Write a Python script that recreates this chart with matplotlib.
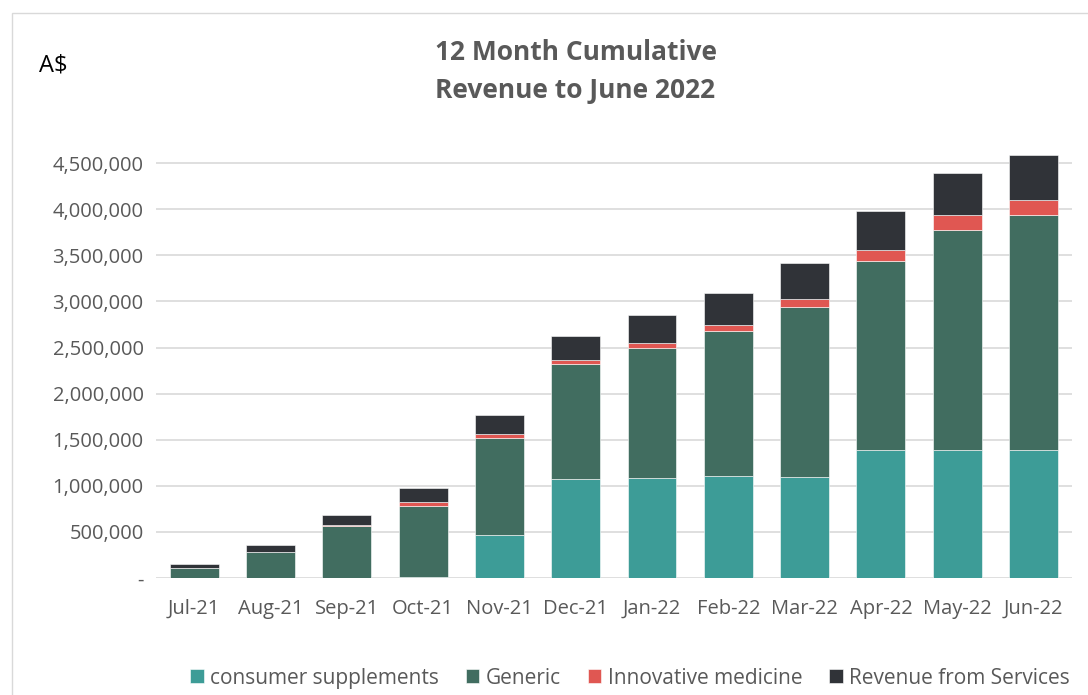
import numpy as np
import matplotlib.pyplot as plt
from matplotlib.patches import Rectangle
from matplotlib.ticker import FuncFormatter

months = ['Jul-21', 'Aug-21', 'Sep-21', 'Oct-21', 'Nov-21', 'Dec-21',
          'Jan-22', 'Feb-22', 'Mar-22', 'Apr-22', 'May-22', 'Jun-22']
consumer = [0, 3000, 5000, 10000, 470000, 1078000,
            1089000, 1103000, 1100000, 1393000, 1393000, 1393000]
generic = [105000, 276000, 559000, 771000, 1048000, 1240000,
           1406000, 1580000, 1839000, 2045000, 2386000, 2544000]
innovative = [2000, 5000, 8000, 40000, 40000, 51000,
              54000, 58000, 84000, 116000, 155000, 160000]
services = [40000, 75000, 110000, 150000, 205000, 256000,
            308000, 347000, 398000, 426000, 455000, 488000]

series = [('consumer supplements', consumer, '#3D9C97'),
          ('Generic', generic, '#416D60'),
          ('Innovative medicine', innovative, '#E05752'),
          ('Revenue from Services', services, '#303338')]

plt.rcParams['font.family'] = ['Open Sans', 'DejaVu Sans']
grey = '#595959'

fig = plt.figure(figsize=(10.88, 6.95), dpi=100)
ax = fig.add_axes([0.1434, 0.1683, 0.8416, 0.6634])

x = np.arange(len(months))
bottom = np.zeros(len(months))
for name, vals, col in series:
    ax.bar(x, vals, 0.64, bottom=bottom, color=col, label=name,
           edgecolor='white', linewidth=0.4, zorder=3)
    bottom += np.array(vals)

ax.set_xlim(-0.5, len(months) - 0.5)
ax.set_ylim(0, 5000000)
ax.set_yticks(np.arange(0, 4500001, 500000))
ax.yaxis.set_major_formatter(FuncFormatter(lambda v, p: '-' if v == 0 else f'{int(v):,}'))
ax.set_xticks(x)
ax.set_xticklabels(months)
ax.grid(axis='y', color='#D9D9D9', linewidth=1.2, zorder=0)
for s in ax.spines.values():
    s.set_visible(False)
ax.tick_params(length=0, labelsize=14.5, colors=grey)
ax.tick_params(axis='x', pad=15)
ax.tick_params(axis='y', pad=9)

fig.text(0.529, 0.897, '12 Month Cumulative\nRevenue to June 2022', ha='center', va='center',
         fontsize=19, fontweight='bold', color=grey, linespacing=1.55)
fig.text(0.036, 0.906, 'A$', fontsize=17, color='black', va='center')

fig.legend(loc='lower center', bbox_to_anchor=(0.579, -0.018), ncol=4, frameon=False,
           fontsize=15, labelcolor=grey, handlelength=0.65, handleheight=0.65,
           handletextpad=0.3, columnspacing=1.3)

fig.patches.append(Rectangle((0.011, -0.1), 1.2, 1.081, transform=fig.transFigure,
                             fill=False, edgecolor='#D9D9D9', linewidth=1))

fig.savefig('out.png', dpi=100)
